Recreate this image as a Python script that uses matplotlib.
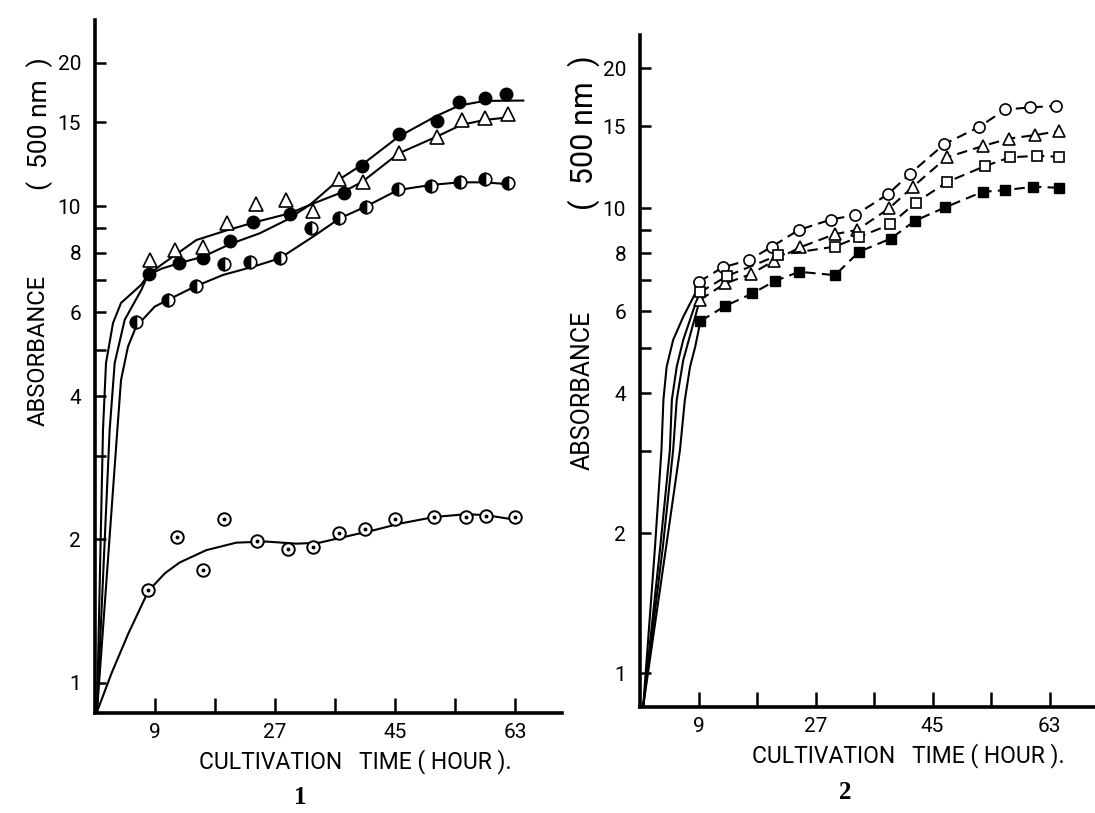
import matplotlib
matplotlib.use("Agg")
import matplotlib.pyplot as plt
from matplotlib.ticker import FixedLocator, NullFormatter, FixedFormatter

# ---------------- DATA ----------------
# Panel 1 : measured points
p1_dot_t = [8.0, 12.3, 16.2, 19.3, 24.3, 29.0, 32.7, 36.6, 40.5, 45.0, 50.8, 55.6, 58.6, 63.0]
p1_dot_v = [1.57, 2.02, 1.73, 2.21, 1.99, 1.91, 1.93, 2.06, 2.10, 2.21, 2.23, 2.23, 2.24, 2.23]

p1_fill_t = [8.1, 12.6, 16.2, 20.3, 23.7, 29.2, 37.3, 40.0, 45.5, 51.2, 54.6, 58.4, 61.6]
p1_fill_v = [7.20, 7.60, 7.78, 8.46, 9.29, 9.64, 10.69, 12.17, 14.17, 15.1, 16.59, 16.85, 17.2]

p1_tri_t = [8.2, 12.0, 16.2, 19.8, 24.1, 28.6, 32.7, 36.5, 40.1, 45.5, 51.2, 55.0, 58.4, 61.9]
p1_tri_v = [7.72, 8.10, 8.20, 9.22, 10.12, 10.31, 9.79, 11.43, 11.27, 12.91, 14.0, 15.18, 15.3, 15.63]

p1_half_t = [6.2, 11.0, 15.2, 19.4, 23.2, 27.8, 32.4, 36.6, 40.6, 45.4, 50.4, 54.7, 58.4, 61.9]
p1_half_v = [5.71, 6.36, 6.81, 7.57, 7.65, 7.80, 8.99, 9.44, 9.99, 10.88, 11.05, 11.27, 11.41, 11.21]

# Panel 1 : fitted curves
c1_dot_t = [0.3, 2.5, 5.0, 8.0, 10.5, 12.7, 16.7, 21.2, 25.7, 30.2, 33.7, 37.7, 41.7, 45.7, 50.9, 55.6, 58.6, 63.0]
c1_dot_v = [0.87, 1.05, 1.27, 1.56, 1.70, 1.79, 1.90, 1.97, 1.98, 1.96, 1.97, 2.03, 2.09, 2.16, 2.23, 2.26, 2.25, 2.20]

c1_tri_t = [0.3, 1.2, 1.65, 2.7, 3.9, 6.9, 7.95, 10.0, 12.0, 15.2, 19.7, 23.7, 29.2, 32.2, 37.3, 40.1, 45.5, 51.2, 54.9, 58.4, 62.2]
c1_tri_v = [0.87, 3.40, 4.69, 5.69, 6.27, 6.84, 7.18, 7.55, 7.90, 8.50, 8.90, 9.24, 9.67, 10.07, 10.74, 11.27, 12.91, 14.0, 14.82, 15.18, 15.38]

c1_fill_t = [0.3, 2.2, 2.95, 4.45, 6.95, 7.95, 10.0, 12.6, 16.2, 20.3, 24.7, 28.7, 32.2, 36.5, 40.0, 45.5, 51.2, 54.6, 58.4, 64.2]
c1_fill_v = [0.87, 3.40, 4.69, 5.78, 6.68, 7.18, 7.40, 7.60, 7.84, 8.34, 8.78, 9.36, 10.07, 11.36, 12.22, 14.0, 15.48, 16.27, 16.64, 16.67]

c1_half_t = [0.3, 3.35, 3.9, 4.95, 6.15, 8.95, 10.9, 14.9, 19.2, 23.7, 27.7, 32.7, 36.7, 40.6, 45.4, 50.4, 54.7, 58.4, 61.9]
c1_half_v = [0.87, 3.40, 4.32, 5.08, 5.59, 6.16, 6.36, 6.78, 7.18, 7.47, 7.78, 8.64, 9.44, 9.99, 10.82, 11.09, 11.23, 11.23, 11.13]

# Panel 2 : measured points
p2_circ_t = [9.1, 12.7, 16.8, 20.3, 24.4, 29.4, 33.1, 38.1, 41.5, 46.8, 52.2, 56.2, 60.0, 64.0]
p2_circ_v = [6.95, 7.46, 7.74, 8.27, 8.98, 9.46, 9.67, 10.71, 11.85, 13.74, 14.97, 16.32, 16.48, 16.62]

p2_tri_t = [9.2, 13.1, 17.0, 20.6, 24.6, 30.0, 33.4, 38.3, 42.0, 47.2, 52.7, 56.8, 60.8, 64.4]
p2_tri_v = [6.35, 6.89, 7.21, 7.71, 8.24, 8.80, 8.98, 9.99, 11.13, 12.87, 13.61, 14.13, 14.37, 14.66]

p2_sq_t = [9.2, 13.4, 21.3, 30.0, 33.7, 38.5, 42.4, 47.3, 53.1, 56.9, 61.0, 64.4]
p2_sq_v = [6.59, 7.15, 7.93, 8.27, 8.68, 9.23, 10.28, 11.40, 12.33, 12.87, 12.97, 12.91]

p2_fsq_t = [9.3, 13.1, 17.3, 20.8, 24.5, 30.0, 33.7, 38.6, 42.3, 46.9, 52.7, 56.2, 60.5, 64.4]
p2_fsq_v = [5.72, 6.16, 6.56, 6.98, 7.30, 7.18, 8.06, 8.61, 9.40, 10.04, 10.85, 10.94, 11.13, 11.07]

# Panel 2 : initial solid growth curves
c2_circ_t = [0.5, 2.3, 3.3, 3.6, 4.1, 5.1, 6.65, 8.5, 9.1]
c2_circ_v = [0.85, 1.86, 3.02, 3.87, 4.56, 5.21, 5.84, 6.56, 6.95]
c2_sq_t = [0.5, 3.1, 4.6, 4.9, 5.65, 6.65, 8.2, 9.2]
c2_sq_v = [0.85, 1.86, 3.02, 3.87, 4.56, 5.21, 6.04, 6.59]
c2_tri_t = [0.5, 3.5, 5.1, 5.65, 6.65, 8.2, 9.2]
c2_tri_v = [0.85, 1.86, 3.02, 3.87, 4.71, 5.65, 6.35]
c2_fsq_t = [0.5, 4.0, 6.15, 6.9, 7.7, 8.5, 9.3]
c2_fsq_v = [0.85, 1.86, 3.02, 3.87, 4.56, 5.04, 5.72]

y_major = [1, 2, 4, 6, 8, 10, 15, 20]
y_minor = [3, 5, 7, 9]
x_major = [9, 18, 27, 36, 45, 54, 63]
x_labels = ["9", "", "27", "", "45", "", "63"]

# ---------------- FIGURE ----------------
W, H = 1095, 813
fig = plt.figure(figsize=(W / 100, H / 100), dpi=100)
fig.patch.set_facecolor("white")

SANS = ["Roboto", "DejaVu Sans"]
SERIF = ["Liberation Serif", "DejaVu Serif"]


def px_axes(x0, y_top, x1, y_bot):
    return fig.add_axes([x0 / W, 1 - y_bot / H, (x1 - x0) / W, (y_bot - y_top) / H])


def style_axes(ax, ylo, yhi):
    ax.set_yscale("log")
    ax.set_xlim(0, 70)
    ax.set_ylim(ylo, yhi)
    for s in ("top", "right"):
        ax.spines[s].set_visible(False)
    for s in ("left", "bottom"):
        ax.spines[s].set_linewidth(2.6)
    ax.yaxis.set_major_locator(FixedLocator(y_major))
    ax.yaxis.set_major_formatter(FixedFormatter([str(v) for v in y_major]))
    ax.yaxis.set_minor_locator(FixedLocator(y_minor))
    ax.yaxis.set_minor_formatter(NullFormatter())
    ax.xaxis.set_major_locator(FixedLocator(x_major))
    ax.xaxis.set_major_formatter(FixedFormatter(x_labels))
    ax.tick_params(axis="y", which="both", direction="in", length=8, width=1.8, pad=10)
    ax.tick_params(axis="x", which="major", direction="in", length=11, width=1.8, pad=7)
    for lab in ax.get_xticklabels() + ax.get_yticklabels():
        lab.set_family(SANS)
        lab.set_fontsize(15)
    ax.set_facecolor("none")


LW = 1.5

# ---- Panel 1 ----
ax1 = px_axes(95, 20, 562, 713)
style_axes(ax1, 0.865, 24.6)
for t, v in ((c1_dot_t, c1_dot_v), (c1_tri_t, c1_tri_v), (c1_fill_t, c1_fill_v), (c1_half_t, c1_half_v)):
    ax1.plot(t, v, color="black", lw=LW)
ax1.plot(p1_dot_t, p1_dot_v, ls="none", marker="o", ms=9, mfc="white", mec="black", mew=1.4)
ax1.plot(p1_dot_t, p1_dot_v, ls="none", marker="o", ms=1.8, mfc="black", mec="black")
ax1.plot(p1_fill_t, p1_fill_v, ls="none", marker="o", ms=9, mfc="black", mec="black")
ax1.plot(p1_tri_t, p1_tri_v, ls="none", marker="^", ms=10, mfc="white", mec="black", mew=1.2)
ax1.plot(p1_half_t, p1_half_v, ls="none", marker="o", ms=9, fillstyle="left",
         mfc="black", markerfacecoloralt="white", mec="black", mew=1.2)

# ---- Panel 2 ----
ax2 = px_axes(640, 35, 1095, 707)
style_axes(ax2, 0.845, 23.6)
DASH = (0, (5, 3))
for t, v in ((c2_circ_t, c2_circ_v), (c2_sq_t, c2_sq_v), (c2_tri_t, c2_tri_v), (c2_fsq_t, c2_fsq_v)):
    ax2.plot(t, v, color="black", lw=LW)
ax2.plot(p2_circ_t, p2_circ_v, color="black", lw=LW, ls=DASH,
         marker="o", ms=8, mfc="white", mec="black", mew=1.2)
ax2.plot(p2_tri_t, p2_tri_v, color="black", lw=LW, ls=DASH,
         marker="^", ms=9, mfc="white", mec="black", mew=1.2)
ax2.plot(p2_sq_t, p2_sq_v, color="black", lw=LW, ls=DASH,
         marker="s", ms=7.5, mfc="white", mec="black", mew=1.2)
ax2.plot(p2_fsq_t, p2_fsq_v, color="black", lw=LW, ls=DASH,
         marker="s", ms=7.5, mfc="black", mec="black")

# ---- Text ----
def ftext(x, y, s, **kw):
    fig.text(x / W, 1 - y / H, s, **kw)

for cx, cy in ((355, 762), (908, 756)):
    ftext(cx, cy, "CULTIVATION   TIME ( HOUR ).", ha="center", va="center",
          family=SANS, fontsize=16.5)

ftext(38, 350, "ABSORBANCE", rotation=90, ha="center", va="center",
      family=SANS, fontsize=17)
ftext(40, 124, "(  500 nm  )", rotation=90, ha="center", va="center",
      family=SANS, fontsize=19)
ftext(583, 390, "ABSORBANCE", rotation=90, ha="center", va="center",
      family=SANS, fontsize=18)
ftext(584, 133, "(  500 nm  )", rotation=90, ha="center", va="center",
      family=SANS, fontsize=22)

ftext(300, 797, "1", ha="center", va="center", family=SERIF, fontweight="bold", fontsize=18)
ftext(845, 792, "2", ha="center", va="center", family=SERIF, fontweight="bold", fontsize=18)

fig.savefig("out.png", dpi=100, facecolor="white")
